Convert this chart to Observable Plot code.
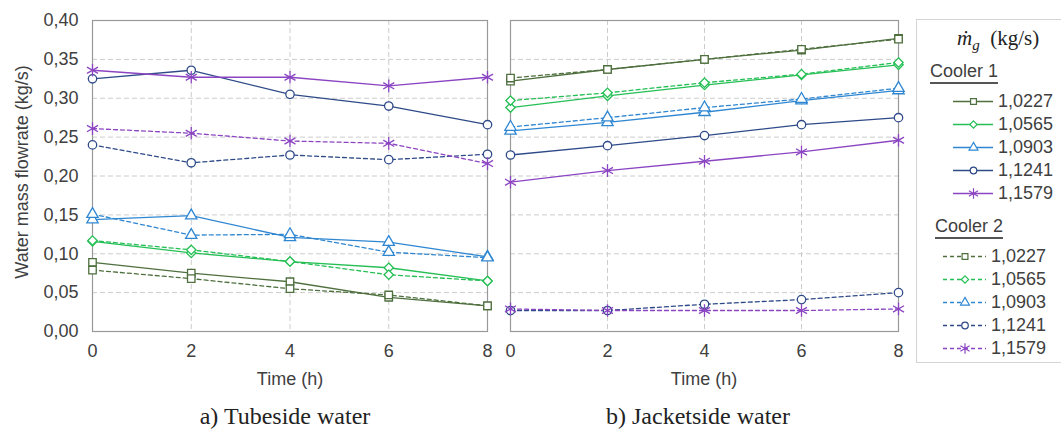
<!DOCTYPE html>
<html>
<head>
<meta charset="utf-8">
<script src="https://cdn.jsdelivr.net/npm/d3@7"></script>
<script src="https://cdn.jsdelivr.net/npm/@observablehq/plot@0.6"></script>
<style>
  html, body { margin: 0; padding: 0; background: #fff; overflow: hidden; }
  #wrap { position: relative; width: 1061px; height: 430px; overflow: hidden; font-family: Arial, "Liberation Sans", sans-serif; color: #404040; }
  #wrap svg.panel text { font-size: 18px; font-family: Arial, "Liberation Sans", sans-serif; }
  .abs { position: absolute; }
  .ptitle { font-family: "Times New Roman", "Liberation Serif", serif; font-size: 24px; color: #222; transform: translate(-50%, -50%); white-space: nowrap; }
  .axlab { font-size: 18px; color: #404040; white-space: nowrap; transform: translate(-50%, -50%); }
  .axlabY { font-size: 18px; color: #404040; white-space: nowrap; transform: translate(-50%, -50%) rotate(-90deg); }
  #legend { left: 916px; top: 19px; width: 170px; height: 344px; border: 1px solid #d4d4d4; box-sizing: border-box; }
  .lgtitle { font-family: "Times New Roman", "Liberation Serif", serif; font-size: 21px; color: #222; white-space: nowrap; }
  .grp { font-size: 18px; color: #404040; border-bottom: 2px solid #555; line-height: 19px; padding-bottom: 1px; }
  .row { display: flex; align-items: center; font-size: 18px; color: #404040; height: 20px; }
  .row svg { display: block; }
</style>
</head>
<body>
<div id="wrap"></div>
<script>
// ---- data ----
const timeH = [0, 2, 4, 6, 8];
const seriesLabels = ["1,0227", "1,0565", "1,0903", "1,1241", "1,1579"];
const seriesColors = ["#4e6f3e", "#25bf55", "#2f87d2", "#2e4a88", "#8b45c2"];
const seriesSymbols = ["square", "diamond2", "triangle", "circle", "asterisk"];
const yTicks = [0, 0.05, 0.10, 0.15, 0.20, 0.25, 0.30, 0.35, 0.40];

// Tubeside water
const tubeCooler1 = [
  [0.089, 0.075, 0.064, 0.044, 0.033],
  [0.116, 0.101, 0.090, 0.082, 0.065],
  [0.144, 0.149, 0.121, 0.115, 0.096],
  [0.325, 0.336, 0.305, 0.290, 0.266],
  [0.336, 0.327, 0.327, 0.316, 0.327]
];
const tubeCooler2 = [
  [0.079, 0.068, 0.055, 0.047, 0.033],
  [0.117, 0.105, 0.090, 0.073, 0.065],
  [0.151, 0.124, 0.125, 0.102, 0.095],
  [0.240, 0.217, 0.227, 0.221, 0.228],
  [0.261, 0.255, 0.245, 0.242, 0.216]
];
// Jacketside water
const jacketCooler1 = [
  [0.322, 0.337, 0.350, 0.362, 0.377],
  [0.288, 0.303, 0.317, 0.330, 0.343],
  [0.258, 0.269, 0.282, 0.297, 0.310],
  [0.227, 0.239, 0.252, 0.266, 0.275],
  [0.192, 0.207, 0.219, 0.231, 0.246]
];
const jacketCooler2 = [
  [0.326, 0.337, 0.350, 0.363, 0.376],
  [0.297, 0.307, 0.320, 0.331, 0.346],
  [0.263, 0.275, 0.288, 0.299, 0.313],
  [0.027, 0.027, 0.035, 0.041, 0.050],
  [0.029, 0.027, 0.027, 0.027, 0.029]
];

function toRows(c1, c2) {
  const rows = [];
  [[c1, 1], [c2, 2]].forEach(([m, cooler]) => {
    m.forEach((vals, i) => vals.forEach((v, j) => rows.push({
      t: timeH[j], v, series: seriesLabels[i], cooler, key: cooler + "-" + seriesLabels[i]
    })));
  });
  return rows;
}

const fmt = d => d.toFixed(2).replace(".", ",");
const gridStyle = { stroke: "#cccccc", strokeOpacity: 1, strokeDasharray: "5,3", strokeWidth: 1 };

function panel(rows, { left }) {
  const marks = [
    Plot.gridX(timeH, gridStyle),
    Plot.gridY(yTicks, gridStyle),
    Plot.frame({ stroke: "#999", strokeWidth: 1.2 }),
    Plot.axisX(timeH, { tickSize: 0, tickPadding: 13, fontSize: 18, label: null, fill: "#404040" }),
    Plot.line(rows.filter(d => d.cooler === 2), { x: "t", y: "v", z: "key", stroke: "series", strokeWidth: 1.3, strokeDasharray: "4,3" }),
    Plot.line(rows.filter(d => d.cooler === 1), { x: "t", y: "v", z: "key", stroke: "series", strokeWidth: 1.3 }),
    Plot.dot(rows.filter(d => d.series !== seriesLabels[4]), { x: "t", y: "v", symbol: "series", stroke: "series", fill: "white", r: 4.2, strokeWidth: 1.3 }),
    Plot.dot(rows.filter(d => d.series === seriesLabels[4]), { x: "t", y: "v", symbol: "series", stroke: "series", r: 6, strokeWidth: 1.3 })
  ];
  if (left) {
    marks.push(Plot.axisY(yTicks, { tickSize: 0, tickPadding: 14, tickFormat: fmt, fontSize: 18, label: null, fill: "#404040" }));
  }
  const svg = Plot.plot({
    width: left ? 500 : 414,
    height: 390,
    marginLeft: left ? 92 : 13,
    marginRight: 13,
    marginTop: 20,
    marginBottom: 59,
    style: { fontFamily: "Arial, 'Liberation Sans', sans-serif", fontSize: "18px", color: "#404040", background: "transparent", overflow: "visible" },
    x: { domain: [0, 8], axis: null },
    y: { domain: [0, 0.4], axis: null },
    color: { domain: seriesLabels, range: seriesColors },
    symbol: { domain: seriesLabels, range: seriesSymbols },
    marks
  });
  svg.classList.add("panel");
  return svg;
}

const wrap = document.getElementById("wrap");

const pA = panel(toRows(tubeCooler1, tubeCooler2), { left: true });
pA.classList.add("abs"); pA.style.left = "0px"; pA.style.top = "0px";
wrap.appendChild(pA);

const pB = panel(toRows(jacketCooler1, jacketCooler2), { left: false });
pB.classList.add("abs"); pB.style.left = "497px"; pB.style.top = "0px";
wrap.appendChild(pB);

function addDiv(cls, html, x, y) {
  const d = document.createElement("div");
  d.className = "abs " + cls;
  d.innerHTML = html;
  d.style.left = x + "px"; d.style.top = y + "px";
  wrap.appendChild(d);
  return d;
}
addDiv("axlab", "Time (h)", 290, 379);
addDiv("axlab", "Time (h)", 704, 379);
addDiv("axlabY", "Water mass flowrate (kg/s)", 22, 172);
addDiv("ptitle", "a) Tubeside water", 285, 416);
addDiv("ptitle", "b) Jacketside water", 698, 416);

// ---- legend ----
const legend = document.createElement("div");
legend.id = "legend"; legend.className = "abs";
wrap.appendChild(legend);

function lgAdd(html, x, y, cls) {
  const d = document.createElement("div");
  d.className = "abs " + (cls || "");
  d.innerHTML = html;
  d.style.left = x + "px"; d.style.top = y + "px";
  legend.appendChild(d);
  return d;
}
lgAdd('<i>m&#775;</i><sub style="font-size:15px"><i>g</i></sub>&nbsp; (kg/s)', 40, 6, "lgtitle");
lgAdd('<span class="grp">Cooler 1</span>', 13, 42, "");
lgAdd('<span class="grp">Cooler 2</span>', 18, 197, "");

function sample(i, dashed, w) {
  return Plot.plot({
    width: w, height: 18, margin: 0,
    x: { domain: [-1, 1], axis: null },
    y: { domain: [-1, 1], axis: null },
    marks: [
      Plot.ruleY([0], { stroke: seriesColors[i], strokeWidth: 1.3, strokeDasharray: dashed ? "4,3" : null }),
      Plot.dot([0], { x: 0, y: 0, symbol: () => seriesSymbols[i], stroke: seriesColors[i], fill: i === 4 ? "none" : "white", r: i === 4 ? 5 : 3.3, strokeWidth: 1.2 })
    ],
    symbol: { type: "identity" }
  });
}

seriesLabels.forEach((lab, i) => {
  const r1 = lgAdd("", 36, 71 + i * 23, "row");
  const s1 = sample(i, false, 40); s1.style.marginRight = "5px";
  r1.appendChild(s1); r1.appendChild(document.createTextNode(lab));
  const r2 = lgAdd("", 26, 226 + i * 23, "row");
  const s2 = sample(i, true, 43); s2.style.marginRight = "5px";
  r2.appendChild(s2); r2.appendChild(document.createTextNode(lab));
});
</script>
</body>
</html>
